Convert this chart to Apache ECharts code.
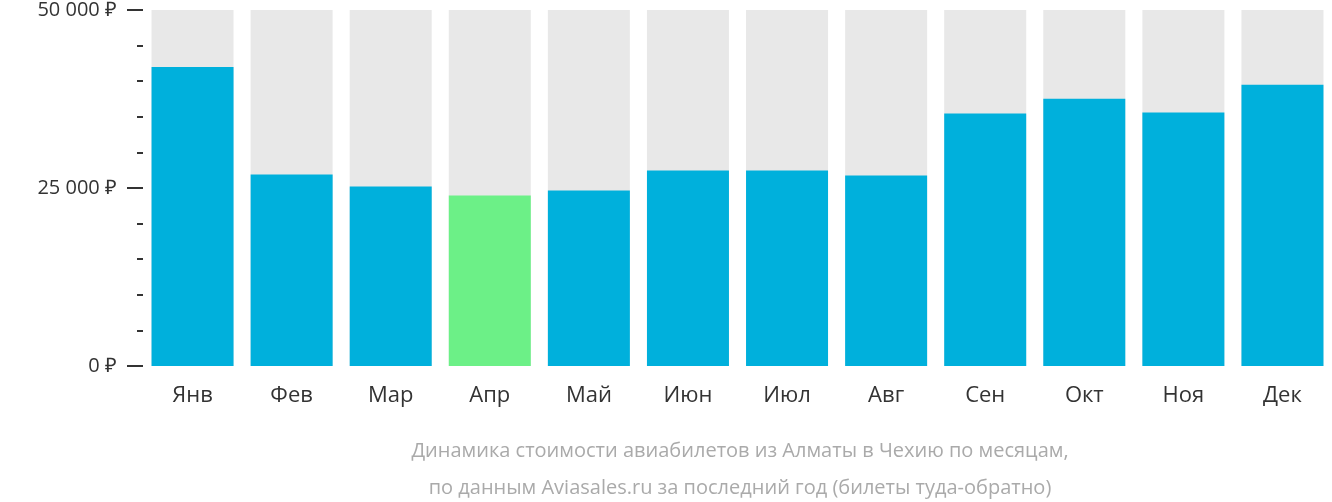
<!DOCTYPE html>
<html>
<head>
<meta charset="utf-8">
<script src="https://cdn.jsdelivr.net/npm/echarts@6/dist/echarts.min.js"></script>
<style>html,body{margin:0;padding:0;background:#fff}#chart{width:1332px;height:502px}</style>
</head>
<body>
<div id="chart"></div>
<script>
let months = ['Янв', 'Фев', 'Мар', 'Апр', 'Май', 'Июн', 'Июл', 'Авг', 'Сен', 'Окт', 'Ноя', 'Дек'];
let prices = [42000, 26900, 25200, 23950, 24650, 27450, 27450, 26750, 35450, 37550, 35600, 39500];
let cheapest = 3; // Апр
let backValues = [50000, 50000, 50000, 50000, 50000, 50000, 50000, 50000, 50000, 50000, 50000, 50000];

var myChart = echarts.init(document.getElementById('chart'));
var font = '"Open Sans", sans-serif';

var option = {
    animation: false,
    grid: { left: 143, right: -11, top: 8, bottom: 136 },
    title: {
        text: 'Динамика стоимости авиабилетов из Алматы в Чехию по месяцам,\nпо данным Aviasales.ru за последний год (билеты туда-обратно)',
        left: 735, top: 428, textAlign: 'center',
        textStyle: { color: '#aaa', fontSize: 20, fontWeight: 'normal', fontFamily: font, lineHeight: 37 }
    },
    xAxis: {
        type: 'category', data: months,
        axisLine: { show: false }, axisTick: { show: false },
        axisLabel: { color: '#333', fontSize: 22, fontFamily: font, margin: 19 }
    },
    yAxis: [{
        type: 'value', min: 0, max: 50000, interval: 25000,
        splitLine: { show: false },
        axisLine: { show: false },
        axisTick: { show: true, length: 16, lineStyle: { color: '#333', width: 2 } },
        axisLabel: {
            color: '#333', fontSize: 20, fontFamily: font, margin: 26,
            formatter: function (v) { return String(v).replace(/\B(?=(\d{3})+(?!\d))/g, ' ') + ' ₽'; }
        }
    }, {
        type: 'value', min: 0, max: 50000, interval: 5000, position: 'left',
        splitLine: { show: false },
        axisLine: { show: false },
        axisTick: { show: true, length: 6, inside: false, lineStyle: { color: '#333', width: 2 } },
        axisLabel: { show: false }
    }],
    series: [{
        type: 'bar', data: backValues, barWidth: 82, barGap: '-100%',
        itemStyle: { color: '#e8e8e8' }, silent: true
    }, {
        type: 'bar', barWidth: 82,
        data: prices.map(function (v, i) {
            return { value: v, itemStyle: { color: i === cheapest ? '#6cf087' : '#00b0dc' } };
        })
    }]
};

myChart.setOption(option);
</script>
</body>
</html>
